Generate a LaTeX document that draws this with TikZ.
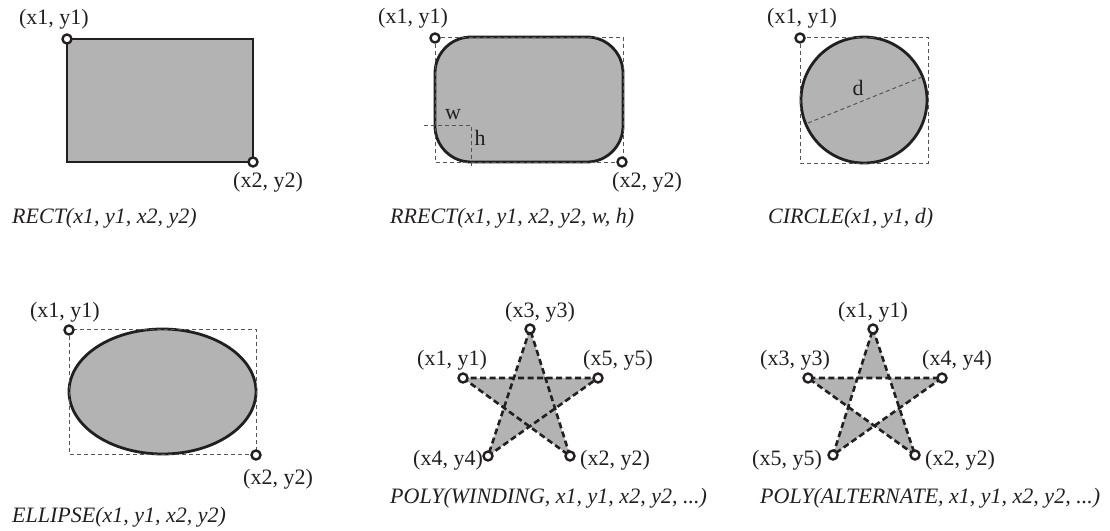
\documentclass[tikz,border=0pt]{standalone}
\usepackage{fontspec}
\setmainfont{Liberation Serif}
\definecolor{ink}{HTML}{231F20}
\definecolor{fillgray}{HTML}{B3B3B3}
\definecolor{guide}{HTML}{555555}
\tikzset{
  shapeline/.style={draw=ink, line width=2.8pt, fill=fillgray},
  guidebox/.style={draw=guide, line width=1pt, dash pattern=on 4pt off 3pt},
  starline/.style={draw=ink, line width=2.6pt, dash pattern=on 6pt off 3.5pt},
  pt/.style={circle, draw=ink, fill=white, line width=2.4pt, inner sep=0pt, minimum size=9pt},
  lbl/.style={text=ink, inner sep=0pt, font=\fontsize{22}{26}\selectfont},
  captext/.style={text=ink, inner sep=0pt, anchor=west, font=\fontsize{22}{26}\selectfont\itshape},
}
\begin{document}
\begin{tikzpicture}[x=1pt, y=-1pt]
\useasboundingbox (0,0) rectangle (1110,530);
% RECT
\coordinate (r1) at (67,39);
\coordinate (r2) at (253,162);
\draw[shapeline] (r1) rectangle (r2);
\node[pt] (rp1) at (r1) {};
\node[pt] (rp2) at (r2) {};
\node[lbl] (rl1) at (54,19) {(x1, y1)};
\node[lbl] (rl2) at (268,182) {(x2, y2)};
\node[captext] (rc) at (12,218) {RECT(x1, y1, x2, y2)};
% RRECT
\coordinate (q1) at (435,37);
\coordinate (q2) at (623,162);
\draw[shapeline, rounded corners=36pt] (q1) rectangle (q2);
\draw[guidebox] (q1) rectangle (q2);
\coordinate (qw1) at (424,125);
\coordinate (qw2) at (471,125);
\coordinate (qh2) at (471,168);
\draw[guidebox] (qw1) -- (qw2) -- (qh2);
\node[lbl] (qw) at (453,115) {w};
\node[lbl] (qh) at (480,138) {h};
\node[pt] (qp1) at (435,38) {};
\node[pt] (qp2) at (622,162) {};
\node[lbl] (ql1) at (413,18) {(x1, y1)};
\node[lbl] (ql2) at (647,182) {(x2, y2)};
\node[captext] (qc) at (390,218) {RRECT(x1, y1, x2, y2, w, h)};
% CIRCLE
\coordinate (c1) at (800,37);
\coordinate (c2) at (928,163);
\coordinate (cc) at (864,100);
\draw[shapeline] (cc) circle (63);
\draw[guidebox] (c1) rectangle (c2);
\coordinate (cd1) at (808,123);
\coordinate (cd2) at (922,77);
\draw[guidebox] (cd1) -- (cd2);
\node[lbl] (cdl) at (858,88) {d};
\node[pt] (cp1) at (800,38) {};
\node[lbl] (cl1) at (802,18) {(x1, y1)};
\node[captext] (ccap) at (768,218) {CIRCLE(x1, y1, d)};
% ELLIPSE
\coordinate (e1) at (69,329);
\coordinate (e2) at (256,454);
\draw[shapeline] (162.5,391.5) ellipse [x radius=93.5, y radius=62.5];
\draw[guidebox] (e1) rectangle (e2);
\node[pt] (ep1) at (69,330) {};
\node[pt] (ep2) at (256,455) {};
\node[lbl] (el1) at (65,312) {(x1, y1)};
\node[lbl] (el2) at (278,479) {(x2, y2)};
\node[captext] (ec) at (12,517) {ELLIPSE(x1, y1, x2, y2)};
% POLY WINDING
\coordinate (w1) at (463,378);
\coordinate (w2) at (570,456);
\coordinate (w3) at (530,329);
\coordinate (w4) at (488,456);
\coordinate (w5) at (598,378);
\fill[fill=fillgray, nonzero rule] (w1) -- (w2) -- (w3) -- (w4) -- (w5) -- cycle;
\draw[starline] (w1) -- (w2) -- (w3) -- (w4) -- (w5) -- cycle;
\foreach \p in {w1,w2,w3,w4,w5} \node[pt] (m\p) at (\p) {};
\node[lbl] (wl3) at (540,312) {(x3, y3)};
\node[lbl] (wl1) at (452,360) {(x1, y1)};
\node[lbl] (wl5) at (618,360) {(x5, y5)};
\node[lbl] (wl4) at (448,460) {(x4, y4)};
\node[lbl] (wl2) at (615,460) {(x2, y2)};
\node[captext] (wc) at (390,498) {POLY(WINDING, x1, y1, x2, y2, ...)};
% POLY ALTERNATE
\coordinate (a1) at (873,329);
\coordinate (a2) at (915,455);
\coordinate (a3) at (808,378);
\coordinate (a4) at (942,378);
\coordinate (a5) at (833,455);
\fill[fill=fillgray, even odd rule] (a1) -- (a2) -- (a3) -- (a4) -- (a5) -- cycle;
\draw[starline] (a1) -- (a2) -- (a3) -- (a4) -- (a5) -- cycle;
\foreach \p in {a1,a2,a3,a4,a5} \node[pt] (m\p) at (\p) {};
\node[lbl] (al1) at (873,312) {(x1, y1)};
\node[lbl] (al3) at (795,360) {(x3, y3)};
\node[lbl] (al4) at (957,360) {(x4, y4)};
\node[lbl] (al5) at (787,460) {(x5, y5)};
\node[lbl] (al2) at (960,460) {(x2, y2)};
\node[captext] (ac) at (760,498) {POLY(ALTERNATE, x1, y1, x2, y2, ...)};
\end{tikzpicture}
\end{document}
